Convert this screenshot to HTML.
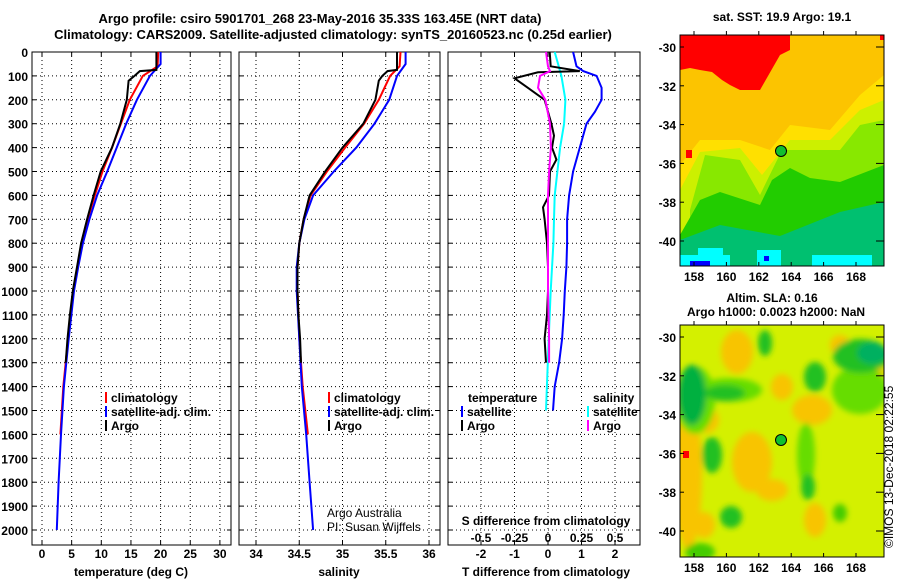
<!DOCTYPE html>
<html><head><meta charset="utf-8">
<style>
html,body{margin:0;padding:0;background:#fff;}
svg{display:block;font-family:"Liberation Sans",Arial,sans-serif;font-weight:bold;}
text{font-size:12px;fill:#000;}
</style></head><body>
<svg id="chart" width="900" height="580" viewBox="0 0 900 580" xmlns="http://www.w3.org/2000/svg">
<defs>
<clipPath id="clipTop"><rect x="680" y="35" width="204" height="231"/></clipPath>
<clipPath id="clipBot"><rect x="680" y="325" width="204" height="232"/></clipPath>
<filter id="blur" x="-20%" y="-20%" width="140%" height="140%"><feGaussianBlur stdDeviation="3"/></filter>
</defs>
<text x="320" y="23" text-anchor="middle" style="font-size:13px">Argo profile: csiro 5901701_268 23-May-2016 35.33S 163.45E (NRT data)</text>
<text x="333" y="39" text-anchor="middle" style="font-size:13px">Climatology: CARS2009. Satellite-adjusted climatology: synTS_20160523.nc (0.25d earlier)</text>

<g id="p1"></g>
<g id="p2"></g>
<g id="p3"></g>

<!-- top map -->
<text x="782" y="21" text-anchor="middle">sat. SST: 19.9 Argo: 19.1</text>
<g clip-path="url(#clipTop)">
<rect x="680" y="35" width="204" height="231" fill="#fcc400"/>
<polygon fill="#ff0000" points="680,35 790,35 790,50 780,55 760,90 740,90 730,85 722,80 712,72 700,70 690,68 680,70"/>
<polygon fill="#ff0000" points="880,35 884,35 884,40 880,40"/>
<polygon fill="#ffe000" points="680,165 700,140 740,140 770,150 790,125 830,130 860,95 884,75 884,266 680,266"/>
<polygon fill="#ccf000" points="680,190 700,152 740,148 762,175 790,140 830,140 860,110 884,100 884,266 680,266"/>
<polygon fill="#88e800" points="690,210 705,155 740,160 760,195 782,150 810,150 840,150 860,125 884,120 884,266 690,266"/>
<polygon fill="#22cc00" points="680,235 700,200 720,192 760,205 772,180 790,168 810,178 840,182 884,165 884,266 680,266"/>
<polygon fill="#00c070" points="680,240 720,225 780,236 840,212 884,202 884,266 680,266"/>
<rect x="680" y="255" width="50" height="11" fill="#00ffff"/>
<rect x="698" y="248" width="25" height="10" fill="#00ffff"/>
<rect x="757" y="250" width="24" height="16" fill="#00ffff"/>
<rect x="812" y="255" width="60" height="11" fill="#00ffff"/>
<rect x="690" y="261" width="20" height="5" fill="#0000ff"/>
<rect x="764" y="256" width="5" height="5" fill="#0000ff"/>
<polygon fill="#ff0000" points="686,150 692,150 692,158 686,158"/>
<circle cx="781" cy="151" r="5.5" fill="#10c030" stroke="#000" stroke-width="1"/>
</g>
<rect x="680" y="35" width="204" height="231" fill="none" stroke="#000" stroke-width="1"/>

<!-- bottom map -->
<text x="772" y="302" text-anchor="middle">Altim. SLA: 0.16</text>
<text x="776" y="316" text-anchor="middle">Argo h1000: 0.0023 h2000: NaN</text>
<g clip-path="url(#clipBot)">
<rect x="680" y="325" width="204" height="232" fill="#d4f000"/>
<g filter="url(#blur)">
<ellipse cx="688" cy="475" rx="14" ry="75" fill="#f8c400"/>
<ellipse cx="737" cy="352" rx="16" ry="22" fill="#f8c400"/>
<ellipse cx="752" cy="462" rx="20" ry="30" fill="#f8c400"/>
<ellipse cx="772" cy="490" rx="16" ry="11" fill="#f8c400"/>
<ellipse cx="782" cy="387" rx="11" ry="13" fill="#f8c400"/>
<ellipse cx="812" cy="410" rx="20" ry="15" fill="#f8c400"/>
<ellipse cx="706" cy="420" rx="13" ry="13" fill="#f8c400"/>
<ellipse cx="704" cy="525" rx="11" ry="13" fill="#f8c400"/>
<ellipse cx="815" cy="520" rx="11" ry="17" fill="#f8c400"/>
<ellipse cx="873" cy="378" rx="11" ry="22" fill="#f8c400"/>
<ellipse cx="840" cy="345" rx="10" ry="10" fill="#f8c400"/>
<ellipse cx="695" cy="400" rx="20" ry="34" fill="#66dd00"/>
<ellipse cx="730" cy="390" rx="32" ry="12" fill="#66dd00"/>
<ellipse cx="860" cy="390" rx="28" ry="24" fill="#66dd00"/>
<ellipse cx="806" cy="455" rx="9" ry="32" fill="#66dd00"/>
<ellipse cx="692" cy="395" rx="14" ry="30" fill="#00b040"/>
<ellipse cx="725" cy="393" rx="20" ry="8" fill="#22c020"/>
<ellipse cx="712" cy="455" rx="10" ry="18" fill="#22c020"/>
<ellipse cx="815" cy="377" rx="11" ry="15" fill="#22c020"/>
<ellipse cx="765" cy="343" rx="7" ry="13" fill="#22c020"/>
<ellipse cx="808" cy="487" rx="7" ry="13" fill="#22c020"/>
<ellipse cx="731" cy="517" rx="11" ry="11" fill="#22c020"/>
<ellipse cx="861" cy="356" rx="28" ry="17" fill="#22c020"/>
<ellipse cx="872" cy="353" rx="15" ry="11" fill="#00b060"/>
<ellipse cx="700" cy="552" rx="15" ry="9" fill="#44cc00"/>
<ellipse cx="840" cy="513" rx="7" ry="9" fill="#44cc00"/>
</g>
<rect x="683" y="451" width="6" height="7" fill="#ff0000"/>
<circle cx="781" cy="440" r="5.5" fill="#10c030" stroke="#000" stroke-width="1"/>
</g>
<rect x="680" y="325" width="204" height="232" fill="none" stroke="#000" stroke-width="1"/>
<text transform="translate(893,548) rotate(-90)" style="font-size:12px;font-weight:normal">©IMOS 13-Dec-2018 02:22:55</text>
<g id="maps-axes"></g>
</svg>
<script>
// ---- data ----
const depthTicks = [0,100,200,300,400,500,600,700,800,900,1000,1100,1200,1300,1400,1500,1600,1700,1800,1900,2000];
const tempTicks = [0,5,10,15,20,25,30];
const salTicks = [34,34.5,35,35.5,36];
const tdiffTicks = [-2,-1,0,1,2];
const sdiffTicks = [-0.5,-0.25,0,0.25,0.5];
const sdiffTickLabels = ["-0.5","-0.25","0","0.25","0.5"];

const argoDepth = [0,75,80,100,120,200,300,400,500,600,700,800,900,1000,1100,1200,1300];
const argoTemp  = [19.3,19.3,16.5,15.6,14.6,14.3,13.2,11.8,9.9,8.7,7.6,6.6,5.9,5.2,4.7,4.3,4.0];
const argoSal   = [35.63,35.63,35.52,35.46,35.42,35.38,35.24,35.0,34.8,34.62,34.55,34.5,34.48,34.48,34.49,34.51,34.52];

const climDepth = [0,60,100,200,300,400,500,600,700,800,900,1000,1200,1400,1600];
const climTemp  = [19.6,19.5,17.0,14.8,13.3,11.8,10.2,8.9,7.7,6.7,6.0,5.3,4.4,3.6,3.1];
const climSal   = [35.67,35.66,35.55,35.42,35.25,35.03,34.82,34.63,34.55,34.5,34.48,34.48,34.5,34.54,34.6];

const satDepth = [0,50,100,200,300,400,500,600,700,800,900,1000,1200,1400,1600,1800,2000];
const satTemp  = [20.0,20.0,18.2,16.0,14.2,12.6,11.0,9.3,8.0,6.9,6.1,5.4,4.5,3.7,3.2,2.8,2.5];
const satSal   = [35.73,35.73,35.63,35.54,35.37,35.16,34.9,34.66,34.56,34.5,34.47,34.47,34.5,34.53,34.58,34.62,34.66];

const diffSatDepth = [0,60,80,100,150,200,250,300,400,500,600,700,800,900,1000,1100,1200,1300,1400,1500];
const diffSatT = [0.75,0.85,1.05,1.45,1.6,1.6,1.4,1.15,0.95,0.75,0.63,0.57,0.57,0.55,0.5,0.47,0.42,0.33,0.2,0.15];
const diffArgoDepth = [0,60,80,85,110,150,200,300,350,400,450,500,600,650,700,800,900,1000,1100,1200,1300];
const diffArgoT = [0.05,0.08,0.95,-0.3,-1.0,-0.6,-0.1,0.1,0.18,0.12,0.25,0.06,0.03,-0.15,-0.1,-0.03,0.0,0.0,-0.03,-0.1,-0.06];
const diffSatSDepth = [0,100,200,300,400,500,600,700,800,1000,1200,1400,1500];
const diffSatS = [0.05,0.1,0.13,0.12,0.09,0.07,0.05,0.045,0.04,0.02,0.005,-0.008,-0.015];
const diffArgoSDepth = [0,60,80,100,150,200,300,400,500,600,800,1000,1200,1300];
const diffArgoS = [-0.015,0.0,0.015,-0.06,-0.075,-0.02,0.015,0.022,0.008,0.0,0.0,0.0,0.008,0.008];

const mapLatTicks = [-30,-32,-34,-36,-38,-40];
const mapLonTicks = [158,160,162,164,166,168];

// ---- scales ----
const NS="http://www.w3.org/2000/svg";
const yD = d => 52 + d*0.239;
const xT = t => 42 + t*5.93;
const xS = s => 256 + (s-34)*86.5;
const xDT = v => 548 + v*33.5;
const xDS = v => 548 + v*134;
const TOP=52, BOT=545;

function el(tag, attrs, parent){const e=document.createElementNS(NS,tag);for(const k in attrs)e.setAttribute(k,attrs[k]);parent.appendChild(e);return e;}
function txt(x,y,s,anchor,parent,style){const t=el('text',{x:x,y:y,'text-anchor':anchor||'start'},parent);if(style)t.setAttribute('style',style);t.textContent=s;return t;}

function panel(g,x0,x1,ticks,xf,labels,name){
  const frame=el('rect',{x:x0,y:TOP,width:x1-x0,height:BOT-TOP,fill:'none',stroke:'#000','stroke-width':1},g);
  
  
  depthTicks.forEach(d=>{ if(d>0){
    const l=el('line',{x1:x0,x2:x1,y1:yD(d),y2:yD(d),stroke:'#000','stroke-dasharray':'1,3'},g);
    
    
    el('line',{x1:x0,x2:x0+4,y1:yD(d),y2:yD(d),stroke:'#000'},g);
    el('line',{x1:x1-4,x2:x1,y1:yD(d),y2:yD(d),stroke:'#000'},g);
  }});
  ticks.forEach((t,i)=>{
    const x=xf(t);
    const l=el('line',{x1:x,x2:x,y1:TOP,y2:BOT,stroke:'#000','stroke-dasharray':'1,3'},g);
    
    
    el('line',{x1:x,x2:x,y1:BOT-4,y2:BOT,stroke:'#000'},g);
    el('line',{x1:x,x2:x,y1:TOP,y2:TOP+4,stroke:'#000'},g);
    if(labels){const t2=txt(x,558,labels[i],'middle',g);
      
      }
  });
}
function line(g,xs,ds,xf,color,name){
  const pts=ds.map((d,i)=>xf(xs[i]).toFixed(1)+','+yD(d).toFixed(1)).join(' ');
  const p=el('polyline',{points:pts,fill:'none',stroke:color,'stroke-width':2,'stroke-linejoin':'miter'},g);
  
  
}
function legendRow(g,x,y,color,label){
  el('rect',{x:x,y:y-10,width:2,height:11,fill:color},g);
  const t=txt(x+6,y,label,'start',g);
  
  
}

// panel 1
const g1=document.getElementById('p1');
panel(g1,32,231,tempTicks,xT,tempTicks.map(String),'temperature-panel');
depthTicks.forEach(d=>{const t=txt(28,yD(d)+5,String(d),'end',g1);
  
  });
line(g1,climTemp,climDepth,xT,'#ff0000','temp-climatology-line');
line(g1,satTemp,satDepth,xT,'#0000ff','temp-satellite-line');
line(g1,argoTemp,argoDepth,xT,'#000000','temp-argo-line');
legendRow(g1,105,402,'#ff0000','climatology');
legendRow(g1,105,416,'#0000ff','satellite-adj. clim.');
legendRow(g1,105,430,'#000000','Argo');
const a1=txt(131,576,'temperature (deg C)','middle',g1);



// panel 2
const g2=document.getElementById('p2');
panel(g2,239,440,salTicks,xS,salTicks.map(String),'salinity-panel');
line(g2,climSal,climDepth,xS,'#ff0000','sal-climatology-line');
line(g2,satSal,satDepth,xS,'#0000ff','sal-satellite-line');
line(g2,argoSal,argoDepth,xS,'#000000','sal-argo-line');
legendRow(g2,328,402,'#ff0000','climatology');
legendRow(g2,328,416,'#0000ff','satellite-adj. clim.');
legendRow(g2,328,430,'#000000','Argo');
const c1=txt(327,517,'Argo Australia','start',g2,'font-weight:normal');


const c2=txt(327,531,'PI: Susan Wijffels','start',g2,'font-weight:normal');


const a2=txt(339,576,'salinity','middle',g2);



// panel 3
const g3=document.getElementById('p3');
el('rect',{x:448,y:TOP,width:192,height:BOT-TOP,fill:'#fff'},g3);
panel(g3,448,640,tdiffTicks,xDT,null,'difference-panel');
tdiffTicks.forEach(t=>{const tl=txt(xDT(t),558,String(t),'middle',g3);
  
  });
sdiffTicks.forEach((t,i)=>{const tl=txt(xDS(t),542,sdiffTickLabels[i],'middle',g3);
  
  });
line(g3,diffSatT,diffSatDepth,xDT,'#0000ff','t-diff-satellite-line');
line(g3,diffSatS,diffSatSDepth,xDS,'#00ffff','s-diff-satellite-line');
line(g3,diffArgoT,diffArgoDepth,xDT,'#000000','t-diff-argo-line');
line(g3,diffArgoS,diffArgoSDepth,xDS,'#ff00ff','s-diff-argo-line');
const lt=txt(468,402,'temperature','start',g3);


legendRow(g3,461,416,'#0000ff','satellite');
legendRow(g3,461,430,'#000000','Argo');
const ls=txt(593,402,'salinity','start',g3);


legendRow(g3,587,416,'#00ffff','satellite');
legendRow(g3,587,430,'#ff00ff','Argo');
const st=txt(546,525,'S difference from climatology','middle',g3);


const tt=txt(546,576,'T difference from climatology','middle',g3);



// map axes
const gm=document.getElementById('maps-axes');
[[47,35,266],[337,325,557]].forEach(([y30,top,bot],mi)=>{
  mapLatTicks.forEach(la=>{
    const y=y30+(-30-la)*19.4;
    el('line',{x1:876,x2:884,y1:y,y2:y,stroke:'#000'},gm);
    el('line',{x1:680,x2:684,y1:y,y2:y,stroke:'#000'},gm);
    const t=txt(676,y+5,String(la),'end',gm);
    
    
  });
  mapLonTicks.forEach(lo=>{
    const x=694+(lo-158)*16.2;
    el('line',{x1:x,x2:x,y1:bot-4,y2:bot,stroke:'#000'},gm);
    el('line',{x1:x,x2:x,y1:top-4,y2:top,stroke:'#000'},gm);
    const t=txt(x,bot+15,String(lo),'middle',gm);
    
    
  });
});
</script>
</body></html>
